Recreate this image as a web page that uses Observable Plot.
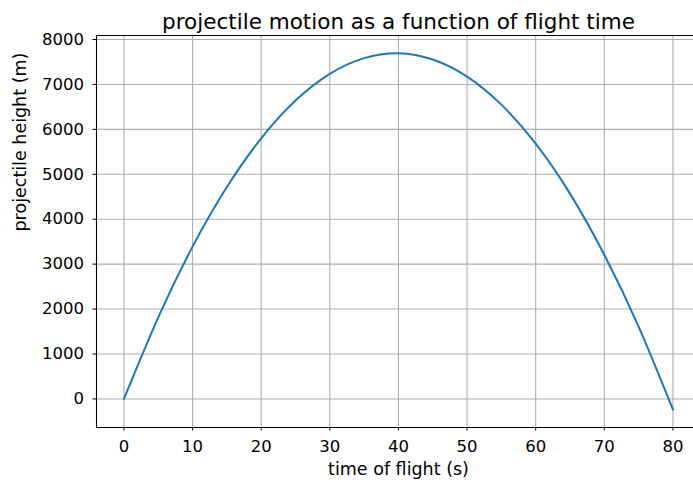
<!DOCTYPE html>
<html>
<head>
<meta charset="utf-8">
<script src="https://cdn.jsdelivr.net/npm/d3@7"></script>
<script src="https://cdn.jsdelivr.net/npm/@observablehq/plot@0.6"></script>
<style>
  html, body { margin: 0; padding: 0; background: #fff; }
  svg { font-family: "DejaVu Sans", sans-serif; }
</style>
</head>
<body>
<div id="chart"></div>
<script>
const titleText = "projectile motion as a function of flight time";
const xLabel = "time of flight (s)";
const yLabel = "projectile height (m)";

const flightTime = [0, 5, 10, 15, 20, 25, 30, 35, 40, 45, 50, 55, 60, 65, 70, 75, 80];
const height = [0, 1815, 3390, 4715, 5800, 6640, 7235, 7585, 7695, 7555, 7175, 6550, 5680, 4570, 3210, 1610, -235];

const xTicks = [0, 10, 20, 30, 40, 50, 60, 70, 80];
const yTicks = [0, 1000, 2000, 3000, 4000, 5000, 6000, 7000, 8000];

const data = flightTime.map((t, i) => ({t, h: height[i]}));

const xDomain = [-4, 83];
const yDomain = [-636, 8089];

const chart = Plot.plot({
  width: 693,
  height: 486,
  marginLeft: 96,
  marginRight: 0,
  marginTop: 35,
  marginBottom: 59,
  style: {fontFamily: "DejaVu Sans", fontSize: "17px", color: "#000", background: "#fff"},
  x: {domain: xDomain, label: null},
  y: {domain: yDomain, label: null},
  marks: [
    Plot.gridX(xTicks, {stroke: "#b0b0b0", strokeOpacity: 1, strokeWidth: 1.1}),
    Plot.gridY(yTicks, {stroke: "#b0b0b0", strokeOpacity: 1, strokeWidth: 1.1}),
    Plot.line(data, {x: "t", y: "h", stroke: "#1f77b4", strokeWidth: 2, curve: "natural"}),
    Plot.ruleX([xDomain[0]], {stroke: "#000", strokeWidth: 1.1}),
    Plot.ruleY([yDomain[0], yDomain[1]], {stroke: "#000", strokeWidth: 1.1}),
    Plot.axisX(xTicks, {tickSize: 3.5, tickPadding: 9, fontSize: 16.5, tickFormat: d3.format("d"), label: null}),
    Plot.axisY(yTicks, {tickSize: 3.5, tickPadding: 9, fontSize: 16.5, tickFormat: d3.format("d"), label: null}),
    Plot.text([titleText], {frameAnchor: "top", dx: 3.5, dy: -22, fontSize: 21.5, fill: "#000"}),
    Plot.text([xLabel], {frameAnchor: "bottom", dx: 3.5, dy: 47, fontSize: 17.5, fill: "#000"}),
    Plot.text([yLabel], {frameAnchor: "left", rotate: -90, dx: -76, fontSize: 17.5, fill: "#000"})
  ]
});
document.getElementById("chart").appendChild(chart);
</script>
</body>
</html>
